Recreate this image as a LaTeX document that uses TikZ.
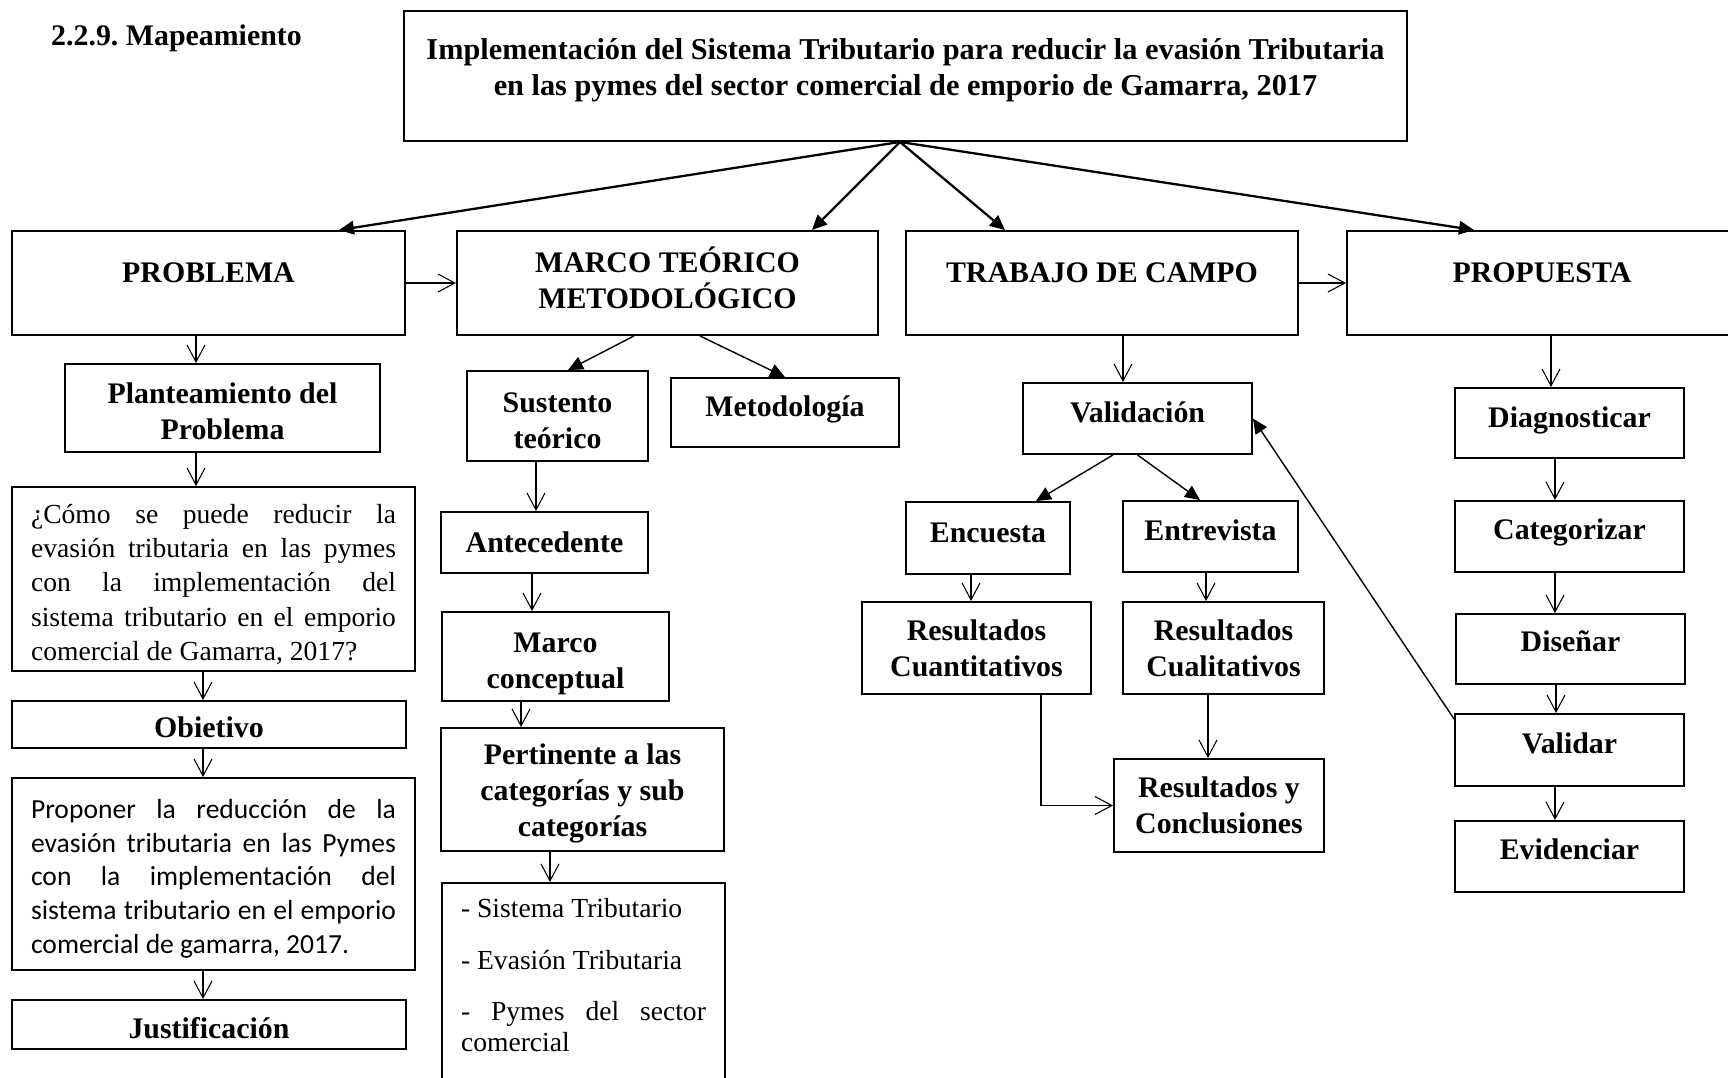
\documentclass[tikz,border=0pt]{standalone}
\usepackage{fontspec}
\setmainfont{Liberation Serif}
\newfontfamily\calib{Carlito}
\usetikzlibrary{arrows.meta, calc}

\begin{document}
\begin{tikzpicture}[x=0.02cm, y=-0.02cm,
    box/.style={draw, line width=1.1pt, inner sep=0pt, align=center,
        font=\bfseries\fontsize{17}{20.5}\selectfont},
    lift/.style={text depth=#1},
    txtbox/.style={draw, line width=1.1pt, inner sep=0pt, align=justify},
    flow/.style={line width=0.6pt, -{Straight Barb[length=0.34cm,width=0.36cm]}},
    main/.style={line width=1.3pt, -{Triangle[length=0.3cm,width=0.27cm]}},
    sub/.style={line width=0.8pt, -{Triangle[length=0.3cm,width=0.27cm]}}]
    \useasboundingbox (0,0) rectangle (1728,1078);
    \clip (0,0) rectangle (1728,1078);

    \node[font=\bfseries\fontsize{17}{20.5}\selectfont] (ttl) at (176.5,38) {2.2.9.\ Mapeamiento};
    \node[box, lift=0.37cm, minimum width=20.06cm, minimum height=2.6cm,
        font=\bfseries\fontsize{17.25}{20.5}\selectfont] (top) at (905.5,76)
        {Implementación del Sistema Tributario para reducir la evasión Tributaria\\
         en las pymes del sector comercial de emporio de Gamarra, 2017};

    % second row
    \node[box, lift=0.42cm, minimum width=7.86cm, minimum height=2.08cm] (prob) at (208.5,283) {PROBLEMA};
    \node[box, lift=0.22cm, minimum width=8.42cm, minimum height=2.08cm] (marco) at (667.5,283) {MARCO TEÓRICO\\METODOLÓGICO};
    \node[box, lift=0.42cm, minimum width=7.84cm, minimum height=2.08cm] (campo) at (1102,283) {TRABAJO DE CAMPO};
    \node[box, lift=0.42cm, minimum width=7.8cm, minimum height=2.08cm] (prop) at (1542,283) {PROPUESTA};

    % problema
    \node[box, minimum width=6.3cm, minimum height=1.76cm] (plant) at (222.5,408) {\rule{0pt}{0.56cm}Planteamiento del\\Problema};
    \node[txtbox, minimum width=8.06cm, minimum height=3.68cm, text width=7.3cm,
        font=\fontsize{15.7}{19.5}\selectfont] (preg) at (213.5,579)
        {\rule{0pt}{0.6cm}¿Cómo se puede reducir la\linebreak evasión tributaria en las pymes\linebreak con la implementación del\linebreak sistema tributario en el emporio\linebreak comercial de Gamarra, 2017?};
    \node[box, text height=0.54cm, minimum width=7.88cm, minimum height=0.94cm] (obj) at (209,724.5) {Obietivo};
    \node[txtbox, minimum width=8.06cm, minimum height=3.84cm, text width=7.3cm,
        font=\calib\fontsize{15.7}{19.2}\selectfont] (obtx) at (213.5,874)
        {\rule{0pt}{0.57cm}Proponer la reducción de la\linebreak evasión tributaria en las Pymes\linebreak con la implementación del\linebreak sistema tributario en el emporio\linebreak comercial de gamarra, 2017.};
    \node[box, text height=0.56cm, minimum width=7.88cm, minimum height=0.98cm] (just) at (209,1024.5) {Justificación};

    % marco
    \node[box, minimum width=3.62cm, minimum height=1.8cm] (sust) at (557.5,416) {\rule{0pt}{0.59cm}Sustento\\teórico};
    \node[box, lift=0.26cm, minimum width=4.56cm, minimum height=1.38cm] (metod) at (785,412.5) {Metodología};
    \node[box, minimum width=4.14cm, minimum height=1.22cm] (antec) at (544.5,542.5) {Antecedente};
    \node[box, minimum width=4.54cm, minimum height=1.78cm] (mconc) at (555.5,656.5) {\rule{0pt}{0.7cm}Marco\\conceptual};
    \node[box, minimum width=5.66cm, minimum height=2.46cm] (pert) at (582.5,789.5) {\rule{0pt}{0.59cm}Pertinente a las\\categorías y sub\\categorías};
    \node[txtbox, anchor=north, text width=4.9cm, inner xsep=0.38cm, inner ysep=0.3cm, text depth=3.4cm,
        font=\fontsize{15.7}{17.6}\selectfont] (lista) at (583.5,882)
        {- Sistema Tributario\par\vspace{0.42cm}- Evasión Tributaria\par\vspace{0.42cm}- Pymes del sector\linebreak comercial};

    % trabajo de campo
    \node[box, lift=0.26cm, minimum width=4.58cm, minimum height=1.42cm] (valid) at (1137.5,418.5) {Validación};
    \node[box, lift=0.22cm, minimum width=3.28cm, minimum height=1.44cm] (enc) at (988,538) {Encuesta};
    \node[box, lift=0.26cm, minimum width=3.5cm, minimum height=1.42cm] (entr) at (1210.5,536.5) {Entrevista};
    \node[box, minimum width=4.58cm, minimum height=1.84cm] (cuant) at (976.5,648) {Resultados\\Cuantitativos};
    \node[box, minimum width=4.02cm, minimum height=1.84cm] (cual) at (1223.5,648) {Resultados\\Cualitativos};
    \node[box, minimum width=4.2cm, minimum height=1.86cm] (ryc) at (1219,805.5) {Resultados y\\Conclusiones};

    % propuesta
    \node[box, lift=0.24cm, minimum width=4.58cm, minimum height=1.4cm] (diag) at (1569.5,423) {Diagnosticar};
    \node[box, lift=0.3cm, minimum width=4.58cm, minimum height=1.42cm] (categ) at (1569.5,536.5) {Categorizar};
    \node[box, lift=0.32cm, minimum width=4.58cm, minimum height=1.4cm] (dis) at (1570.5,649) {Diseñar};
    \node[box, lift=0.28cm, minimum width=4.58cm, minimum height=1.44cm] (valr) at (1569.5,750) {Validar};
    \node[box, lift=0.3cm, minimum width=4.58cm, minimum height=1.42cm] (evid) at (1569.5,856.5) {Evidenciar};

    % connectors
    \coordinate (o) at ([xshift=-0.11cm]top.south);
    \draw[main] (o) -- ([xshift=2.61cm]prob.north);
    \draw[main] (o) -- ([xshift=2.89cm]marco.north);
    \draw[main] (o) -- ([xshift=-1.94cm]campo.north);
    \draw[main] (o) -- ([xshift=-1.36cm]prop.north);
    \draw[flow] (prob.east) -- (marco.west);
    \draw[flow] (campo.east) -- (prop.west);

    \draw[flow] ([xshift=-0.25cm]prob.south) -- ([xshift=-0.25cm]prob.south |- plant.north);
    \draw[flow] ([xshift=-0.53cm]plant.south) -- ([xshift=-0.53cm]plant.south |- preg.north);
    \draw[flow] ([xshift=-0.21cm]preg.south) -- ([xshift=-0.21cm]preg.south |- obj.north);
    \draw[flow] ([xshift=-0.12cm]obj.south) -- ([xshift=-0.12cm]obj.south |- obtx.north);
    \draw[flow] ([xshift=-0.21cm]obtx.south) -- ([xshift=-0.21cm]obtx.south |- just.north);

    \draw[sub] ([xshift=-0.67cm]marco.south) -- ([xshift=0.21cm]sust.north);
    \draw[sub] ([xshift=0.65cm]marco.south) -- (metod.north);
    \draw[flow] ([xshift=-0.43cm]sust.south) -- ([xshift=-0.43cm]sust.south |- antec.north);
    \draw[flow] ([xshift=-0.25cm]antec.south) -- ([xshift=-0.25cm]antec.south |- mconc.north);
    \draw[flow] ([xshift=-0.69cm]mconc.south) -- ([xshift=-0.69cm]mconc.south |- pert.north);
    \draw[flow] ([xshift=-0.65cm]pert.south) -- ([xshift=-0.65cm]pert.south |- lista.north);

    \draw[flow] ([xshift=0.42cm]campo.south) -- ([xshift=0.42cm]campo.south |- valid.north);
    \draw[sub] ([xshift=-0.49cm]valid.south) -- ([xshift=0.96cm]enc.north);
    \draw[sub] (valid.south) -- ([xshift=-0.21cm]entr.north);
    \draw[flow] ([xshift=-0.34cm]enc.south) -- ([xshift=-0.34cm]enc.south |- cuant.north);
    \draw[flow] ([xshift=-0.09cm]entr.south) -- ([xshift=-0.09cm]entr.south |- cual.north);
    \draw[flow] ([xshift=-0.31cm]cual.south) -- ([xshift=-0.31cm]cual.south |- ryc.north);
    \draw[flow] ([xshift=1.29cm]cuant.south) |- (ryc.west);

    \draw[flow] ([xshift=0.18cm]prop.south) -- ([xshift=0.18cm]prop.south |- diag.north);
    \foreach \a/\b in {diag/categ, categ/dis, dis/valr, valr/evid}
        \draw[flow] ([xshift=-0.29cm]\a.south) -- ([xshift=-0.29cm]\a.south |- \b.north);
    \draw[sub] ([yshift=-0.12cm]valr.north west) -- (valid.east);
\end{tikzpicture}
\end{document}
